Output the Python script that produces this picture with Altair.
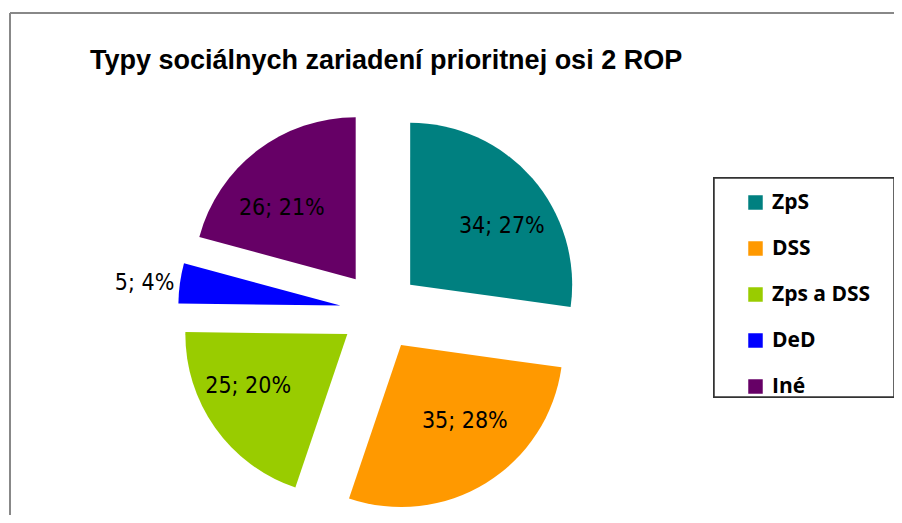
import altair as alt
import pandas as pd

categories = ["ZpS", "DSS", "Zps a DSS", "DeD", "Iné"]
values = [34, 35, 25, 5, 26]
colors = ["#008080", "#FF9900", "#99CC00", "#0000FF", "#660066"]
title_text = "Typy sociálnych zariadení prioritnej osi 2 ROP"

total = sum(values)
df = pd.DataFrame({"cat": categories, "value": values, "order": list(range(len(categories)))})

# layout (in units of the pie radius)
R_PX = 162
CX, CY = 372, 303
W, H = 886, 507
EXPLODE = 40 / R_PX

xscale = alt.Scale(domain=[-CX / R_PX, (W - CX) / R_PX], range=[0, W], nice=False, zero=False)
yscale = alt.Scale(domain=[-(H - CY) / R_PX, CY / R_PX], range=[H, 0], nice=False, zero=False)

base = alt.Chart(df).transform_window(
    cum="sum(value)", sort=[alt.SortField("order")], frame=[None, 0]
).transform_calculate(
    start="datum.cum - datum.value",
    end="datum.cum",
    mid=f"(datum.cum - datum.value / 2) / {total} * 2 * PI",
    pct=f"datum.value / {total}",
).transform_calculate(
    cx=f"{EXPLODE} * sin(datum.mid)",
    cy=f"{EXPLODE} * cos(datum.mid)",
    lrx="datum.pct < 0.05 ? 1.22 : 0.75",
    lry="datum.pct < 0.05 ? 1.0 : 0.55",
    label="datum.value + '; ' + round(datum.pct * 100) + '%'",
).transform_calculate(
    lx="datum.cx + datum.lrx * sin(datum.mid)",
    ly="datum.cy + datum.lry * cos(datum.mid)",
)

arcs = base.mark_arc(outerRadius=R_PX, stroke=None).encode(
    x=alt.X("cx:Q", scale=xscale, axis=None),
    y=alt.Y("cy:Q", scale=yscale, axis=None),
    theta=alt.Theta("start:Q", scale=alt.Scale(domain=[0, total])),
    theta2="end:Q",
    color=alt.Color(
        "cat:N",
        scale=alt.Scale(domain=categories, range=colors),
        sort=categories,
        legend=alt.Legend(title=None),
    ),
    order=alt.Order("order:Q"),
)

labels = base.mark_text(
    font="DejaVu Sans Condensed, Liberation Sans Narrow, sans-serif",
    fontSize=23,
    color="black",
    align="center",
    baseline="middle",
).encode(
    x=alt.X("lx:Q", scale=xscale, axis=None),
    y=alt.Y("ly:Q", scale=yscale, axis=None),
    text="label:N",
)

frame_left = alt.Chart(df).mark_rule(color="#888888", strokeWidth=2).encode(
    x=alt.value(2), y=alt.value(5), y2=alt.value(H)
)
frame_top = alt.Chart(df).mark_rule(color="#888888", strokeWidth=2).encode(
    x=alt.value(2), x2=alt.value(W), y=alt.value(5)
)
legend_box = alt.Chart(df).mark_rect(
    fill="white", stroke="#333333", strokeWidth=1.5
).encode(
    x=alt.value(706), x2=alt.value(W), y=alt.value(170), y2=alt.value(389)
)

chart = alt.layer(frame_left, frame_top, legend_box, arcs, labels).properties(
    width=W,
    height=H,
    padding=0,
    autosize=alt.AutoSizeParams(type="none"),
    title=alt.TitleParams(
        title_text,
        anchor="start",
        orient="top",
        offset=-88,
        dx=82,
        baseline="alphabetic",
        font="Liberation Sans",
        fontSize=27,
        fontWeight="bold",
        color="black",
    ),
).configure_view(stroke=None).configure_legend(
    orient="none",
    legendX=737,
    legendY=184,
    padding=0,
    symbolType="square",
    symbolSize=210,
    symbolStrokeWidth=0,
    labelFont="Open Sans",
    labelFontSize=21,
    labelFontWeight="bold",
    labelColor="black",
    rowPadding=24,
    labelOffset=6,
)

chart.save("out.html", embed_options={"renderer": "svg", "actions": False})
